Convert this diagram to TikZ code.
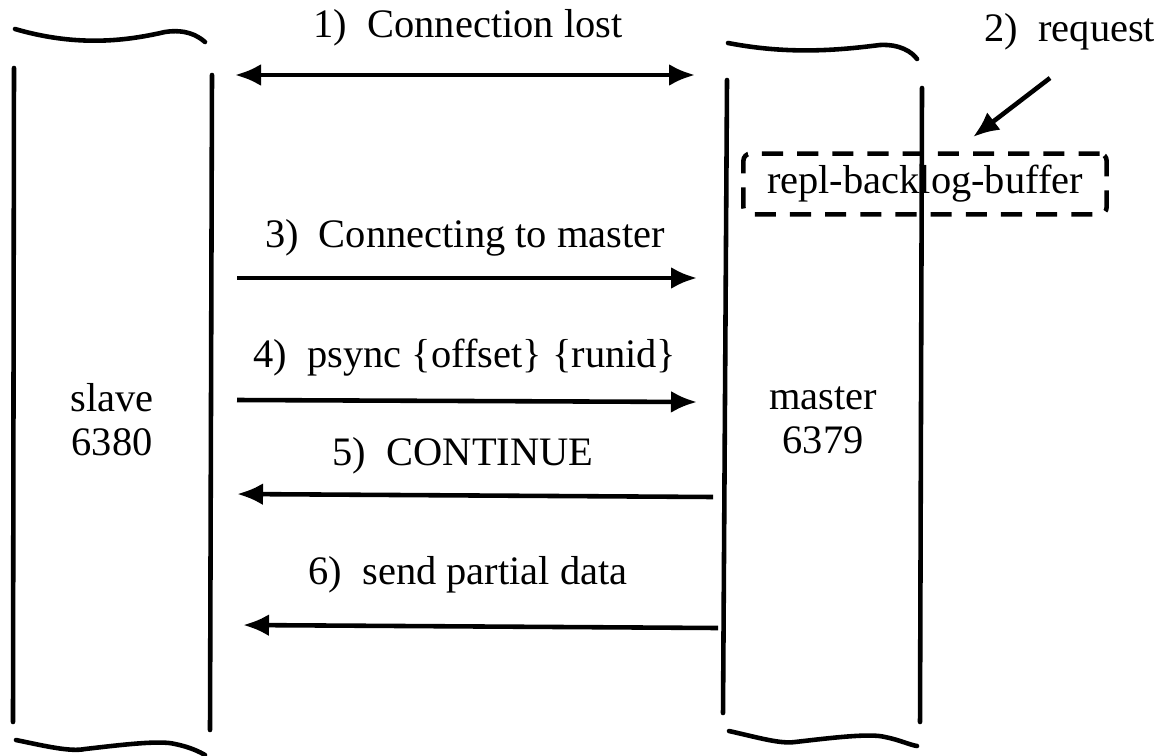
\documentclass[tikz,border=0pt]{standalone}
\usepackage{fontspec}
\setmainfont{Liberation Serif}
\usetikzlibrary{arrows.meta, positioning}

\begin{document}
\begin{tikzpicture}[x=0.01cm, y=-0.01cm,
    wall/.style={line width=1.3pt, line cap=round},
    msg/.style={line width=1.3pt, -{Latex[length=2.6mm,width=2.2mm]}},
    lbl/.style={font=\fontsize{11.5}{13}\selectfont},
    box/.style={draw, line width=1.3pt, dash pattern=on 6pt off 4pt, rounded corners=2pt, minimum width=3.63cm, minimum height=0.57cm, font=\fontsize{11.5}{13}\selectfont},
    host/.style={align=center, font=\fontsize{11.5}{12.5}\selectfont}]
        \useasboundingbox (0,0) rectangle (1168,755);
        % slave
        \draw[wall] (14,68) -- (13,722);
        \draw[wall] (212,75) -- (210,730);
        \draw[wall] (15,29) .. controls (80,48) and (130,40) .. (165,32) .. controls (185,29) and (197,35) .. (205,42);
        \draw[wall] (16,740) .. controls (45,746) and (70,752) .. (85,749) .. controls (120,745) and (160,740) .. (175,744) .. controls (190,747) and (200,752) .. (205,755);
        \node[host] (slave) at (112,420) {slave\\6380};
        % master
        \draw[wall] (727,80) -- (723,713);
        \draw[wall] (922,88) -- (920,722);
        \draw[wall] (728,43) .. controls (790,55) and (840,50) .. (880,45) .. controls (900,44) and (912,52) .. (917,59);
        \draw[wall] (729,731) .. controls (760,738) and (780,744) .. (795,742) .. controls (830,738) and (870,733) .. (885,737) .. controls (900,740) and (910,745) .. (917,746);
        \node[host] (master) at (823,420) {master\\6379};
        \node[box] (buf) at (925,184) {repl-backlog-buffer};
        % request
        \node[lbl, anchor=west] (req) at (972,32) {2)\ \ request};
        \coordinate (rq) at (1050,78);
        \coordinate (rt) at (973,137);
        \draw[msg] (rq) -- (rt);
        % messages
        \coordinate (a1) at (235,75);  \coordinate (b1) at (695,75);
        \coordinate (a3) at (237,278); \coordinate (b3) at (697,278);
        \coordinate (a4) at (237,400); \coordinate (b4) at (697,402);
        \coordinate (a5) at (237,494); \coordinate (b5) at (713,497);
        \coordinate (a6) at (243,625); \coordinate (b6) at (718,628);
        \draw[msg, {Latex[length=2.6mm,width=2.2mm]}-{Latex[length=2.6mm,width=2.2mm]}] (a1) -- (b1);
        \draw[msg] (a3) -- (b3);
        \draw[msg] (a4) -- (b4);
        \draw[msg] (b5) -- (a5);
        \draw[msg] (b6) -- (a6);
        \node[lbl] (l1) at (468,28) {1)\ \ Connection lost};
        \node[lbl] (l3) at (465,238) {3)\ \ Connecting to master};
        \node[lbl] (l4) at (465,358) {4)\ \ psync \{offset\} \{runid\}};
        \node[lbl] (l5) at (463,456) {5)\ \ CONTINUE};
        \node[lbl] (l6) at (468,575) {6)\ \ send partial data};
    \end{tikzpicture}
\end{document}
